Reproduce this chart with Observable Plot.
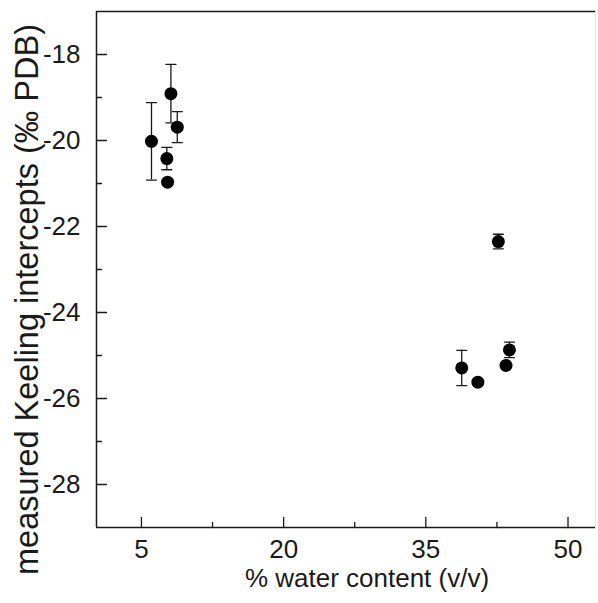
<!DOCTYPE html>
<html><head><meta charset="utf-8">
<script src="https://cdn.jsdelivr.net/npm/d3@7"></script>
<script src="https://cdn.jsdelivr.net/npm/@observablehq/plot@0.6"></script>
<style>body{margin:0;background:#fff}</style>
</head><body><div id="chart"></div>
<script>
// ---- data ----
const water = [6.06, 7.68, 7.76, 8.11, 8.78, 38.79, 40.49, 42.65, 43.46, 43.82];
const intercept = [-20.02, -20.42, -20.97, -18.91, -19.69, -25.29, -25.62, -22.35, -25.23, -24.87];
const errorSD = [0.90, 0.26, 0, 0.68, 0.36, 0.41, 0, 0.17, 0, 0.18];
const xTicks = [5, 20, 35, 50];
const xMinorTicks = [12.5, 27.5, 42.5];
const yTicks = [-18, -20, -22, -24, -26, -28];
const yMinorTicks = [-19, -21, -23, -25, -27];
const xDomain = [0.26, 52.9];
const yDomain = [-29, -17];
const xLabel = "% water content (v/v)";
const yLabel = "measured Keeling intercepts (‰ PDB)";

const data = water.map((x, i) => ({x, y: intercept[i], e: errorSD[i]}));
const withErr = data.filter(d => d.e > 0);
const caps = withErr.flatMap(d => [{x: d.x, y: d.y - d.e}, {x: d.x, y: d.y + d.e}]);
const seg = {draw(ctx, l) { ctx.moveTo(0, 0); ctx.lineTo(0, -l); }};
const ink = "#1a1a1a";
const font = "'Liberation Sans', Arial, sans-serif";

const chart = Plot.plot({
  width: 598,
  height: 603,
  marginLeft: 96,
  marginRight: 3,
  marginTop: 11,
  marginBottom: 76,
  style: {fontFamily: font, background: "#fff", color: ink},
  x: {domain: xDomain},
  y: {domain: yDomain},
  marks: [
    // frame
    Plot.ruleX([xDomain[0]], {stroke: ink, strokeWidth: 1.5}),
    Plot.ruleX([xDomain[1]], {stroke: "#e4e4e4", strokeWidth: 1}),
    Plot.ruleY(yDomain, {stroke: ink, strokeWidth: 1.5}),
    // inward ticks
    Plot.vector(xTicks, {x: d => d, frameAnchor: "bottom", length: 10, rotate: 0, anchor: "start", shape: seg, stroke: ink, strokeWidth: 1.3}),
    Plot.vector(xMinorTicks, {x: d => d, frameAnchor: "bottom", length: 5, rotate: 0, anchor: "start", shape: seg, stroke: ink, strokeWidth: 1.3}),
    Plot.vector(yTicks, {y: d => d, frameAnchor: "left", length: 10, rotate: 90, anchor: "start", shape: seg, stroke: ink, strokeWidth: 1.3}),
    Plot.vector(yMinorTicks, {y: d => d, frameAnchor: "left", length: 5, rotate: 90, anchor: "start", shape: seg, stroke: ink, strokeWidth: 1.3}),
    // tick labels
    Plot.axisX(xTicks, {tickSize: 0, tickPadding: 12, fontSize: 26, label: null, fill: ink, tickFormat: d => String(d)}),
    Plot.axisY(yTicks, {tickSize: 0, tickPadding: 16, fontSize: 26, label: null, fill: ink, tickFormat: d => String(d)}),
    // error bars
    Plot.ruleX(withErr, {x: "x", y1: d => d.y - d.e, y2: d => d.y + d.e, stroke: ink, strokeWidth: 1.3}),
    Plot.vector(caps, {x: "x", y: "y", length: 10, rotate: 90, anchor: "middle", shape: seg, stroke: ink, strokeWidth: 1.3}),
    // points
    Plot.dot(data, {x: "x", y: "y", r: 6.5, fill: "#000"}),
    // axis titles
    Plot.text([xLabel], {frameAnchor: "bottom", textAnchor: "middle", lineAnchor: "middle", dx: 21, dy: 51, fontSize: 26, fill: ink}),
    Plot.text([yLabel], {frameAnchor: "left", textAnchor: "middle", lineAnchor: "middle", rotate: -90, dx: -69, dy: 30, fontSize: 32.5, fill: ink})
  ]
});
document.getElementById("chart").append(chart);
</script>
</body></html>
